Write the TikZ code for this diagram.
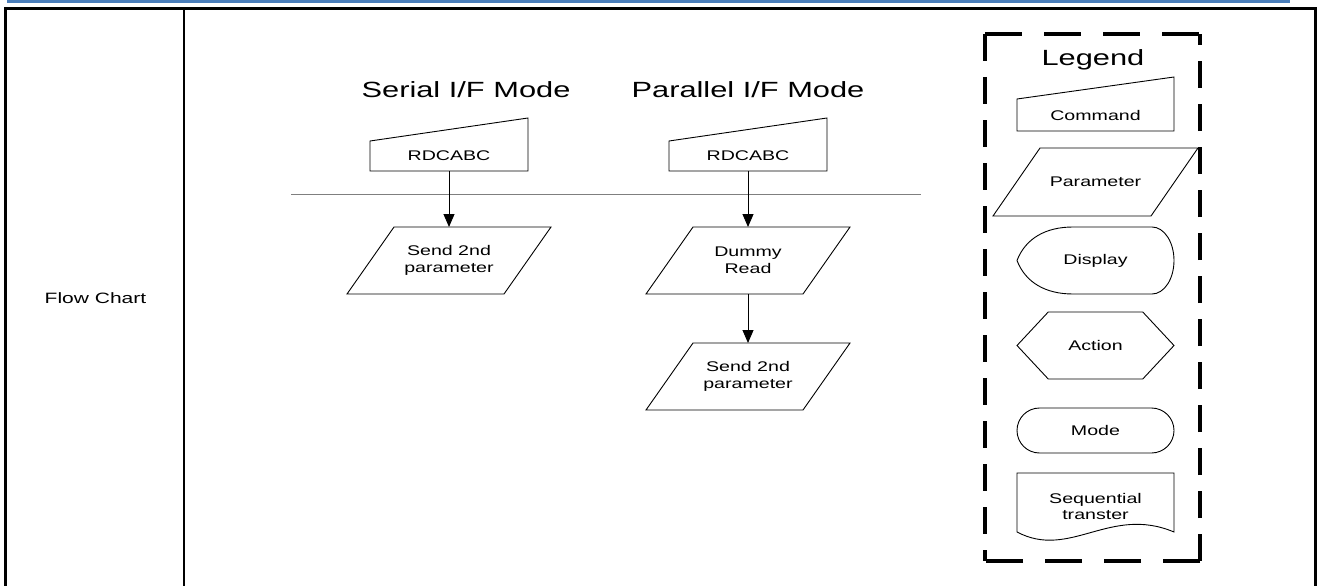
\documentclass[tikz,border=0pt]{standalone}
\usepackage{fontspec}
\setmainfont{Liberation Sans}[FakeStretch=1.4]
\usetikzlibrary{arrows.meta,positioning,calc,shapes.misc,shapes.symbols}
\definecolor{ruleblue}{HTML}{4A7EBB}
\definecolor{sepgray}{HTML}{7F7F7F}
\newcommand{\shapefont}{\fontsize{14}{16.5}\selectfont}
\newcommand{\headfont}{\fontsize{22}{26}\selectfont}
% outlines of the shapes that TikZ has no ready shape for
\newcommand{\cmdoutline}[2]{%
  \draw[outline] (#1.south west) -- (#1.south east) -- ([yshift=#2]#1.north east) -- (#1.north west) -- cycle;}
\newcommand{\paroutline}[1]{%
  \draw[outline] (#1.south west) -- ([xshift=-47pt]#1.south east) -- (#1.north east) -- ([xshift=47pt]#1.north west) -- cycle;}
\newcommand{\dispoutline}[1]{%
  \draw[outline,shift={(#1.center)}] (-78.5,0) .. controls (-70,-22) and (-50,-33.5) .. (-22.5,-33.5) -- (56.5,-33.5)
    arc[start angle=-90,end angle=90,x radius=22,y radius=33.5] -- (-22.5,33.5) .. controls (-50,33.5) and (-70,22) .. (-78.5,0) -- cycle;}
\newcommand{\seqoutline}[1]{%
  \draw[outline,shift={(#1.center)}] (-78.5,25.5) -- (-78.5,-33.5) -- (78.5,-33.5) -- (78.5,25.5)
    .. controls (14.5,-1.5) and (-25.5,53.5) .. (-78.5,25.5) -- cycle;}

\begin{document}
\begin{tikzpicture}[x=1pt,y=-1pt,
  outline/.style={draw=black,line width=0.9pt},
  shapetext/.style={inner sep=0pt,outer sep=0pt,align=center,font=\shapefont},
  cmdbox/.style={shapetext,rectangle,minimum width=158pt,minimum height=30pt},
  parbox/.style={shapetext,rectangle,minimum width=204pt,minimum height=67pt},
  dispbox/.style={shapetext,rectangle,minimum width=157pt,minimum height=67pt},
  actbox/.style={shapetext,signal,outline,signal to=west and east,signal pointer angle=94,
    minimum width=157pt,minimum height=67pt},
  modebox/.style={shapetext,rounded rectangle,outline,minimum width=157pt,minimum height=45pt},
  seqbox/.style={shapetext,rectangle,minimum width=157pt,minimum height=67pt},
  title/.style={inner sep=0pt,font=\headfont},
  arr/.style={-{Triangle[length=13pt,width=11pt]},line width=1pt,draw=black},
  legendh/.style={line width=4pt,dash pattern=on 37pt off 22pt},
  legendv/.style={line width=4pt,dash pattern=on 27pt off 16pt}
]
\useasboundingbox (0,0) rectangle (1318,586);

% page rule and table
\draw[ruleblue,line width=3pt] (7,1.5) -- (1290,1.5);
\draw[line width=3pt] (5.5,586) -- (5.5,9) -- (1315,9) -- (1315,586);
\draw[line width=2pt] (184,9) -- (184,586);
\node[inner sep=0pt,font=\fontsize{15}{18}\selectfont] (rowlabel) at (95.5,298) {Flow Chart};

% serial interface
\node[title] (sertitle) at (466,90) {Serial I/F Mode};
\node[cmdbox] (sercmd) at (449,156) {RDCABC};
\cmdoutline{sercmd}{23pt}
\node[parbox,below=56pt of sercmd] (serpar) {Send 2nd\\parameter};
\paroutline{serpar}

% parallel interface
\node[title] (partitle) at (748,90) {Parallel I/F Mode};
\node[cmdbox] (parcmd) at (748,156) {RDCABC};
\cmdoutline{parcmd}{23pt}
\node[parbox,below=56pt of parcmd] (pardummy) {Dummy\\Read};
\paroutline{pardummy}
\node[parbox,below=49pt of pardummy] (parsend) {Send 2nd\\parameter};
\paroutline{parsend}

\draw[sepgray,line width=1pt] (291,194) -- (921,194);
\draw[arr] (sercmd) -- (serpar);
\draw[arr] (parcmd) -- (pardummy);
\draw[arr] (pardummy) -- (parsend);

% legend
\draw[legendh] (985,34) -- (1200,34);
\draw[legendv] (1200,561) -- (1200,34);
\draw[legendh] (1200,561) -- (985,561);
\draw[legendv] (985,34) -- (985,561);
\node[title] (lgtitle) at (1093,60) {Legend};
\node[cmdbox,minimum width=157pt,minimum height=32pt] (lgcmd) at (1095.5,115) {Command};
\cmdoutline{lgcmd}{22pt}
\node[parbox,minimum width=205pt,minimum height=68pt,below=17pt of lgcmd] (lgpar) {Parameter};
\paroutline{lgpar}
\node[dispbox,below=11pt of lgpar] (lgdisp) {Display};
\dispoutline{lgdisp}
\node[actbox,below=18pt of lgdisp] (lgact) {Action};
\node[modebox,below=29pt of lgact] (lgmode) {Mode};
\node[seqbox,below=20pt of lgmode] (lgseq) {Sequential\\transter};
\seqoutline{lgseq}
\end{tikzpicture}
\end{document}
